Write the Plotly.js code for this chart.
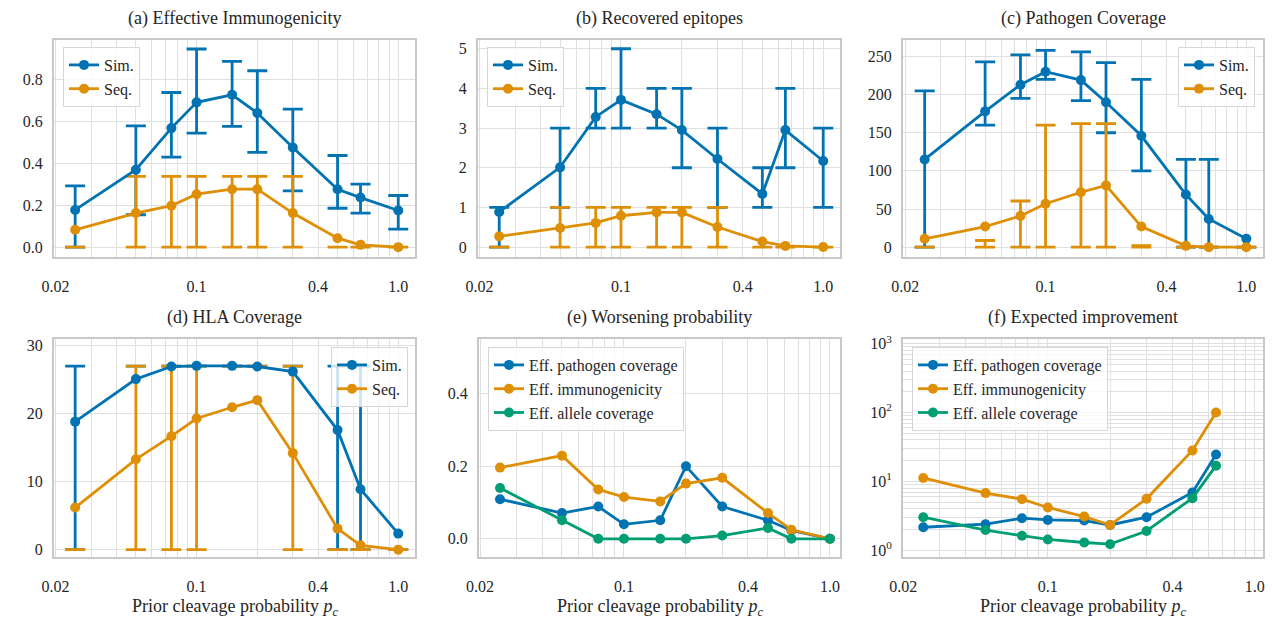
<!DOCTYPE html>
<html>
<head>
<meta charset="utf-8">
<script src="https://cdn.plot.ly/plotly-3.0.1.min.js"></script>
<style>html,body{margin:0;padding:0;background:#fff;}#chart{width:1272px;height:619px;}</style>
</head>
<body>
<div id="chart"></div>
<script>
// ---------------- data ----------------
const pc = [0.025, 0.05, 0.075, 0.1, 0.15, 0.2, 0.3, 0.5, 0.65, 1.0];
const pcF = [0.025, 0.05, 0.075, 0.1, 0.15, 0.2, 0.3, 0.5, 0.65];

const xTickVals = [0.02,0.03,0.04,0.05,0.06,0.07,0.08,0.09,0.1,0.2,0.3,0.4,0.5,0.6,0.7,0.8,0.9,1.0];
const xTickText = ['0.02','','','','','','','','0.1','','','0.4','','','','','','1.0'];

const seriesNames = ['Sim.', 'Seq.'];
const effNames = ['Eff. pathogen coverage', 'Eff. immunogenicity', 'Eff. allele coverage'];

const panelTitles = ['(a) Effective Immunogenicity', '(b) Recovered epitopes', '(c) Pathogen Coverage',
                     '(d) HLA Coverage', '(e) Worsening probability', '(f) Expected improvement'];
const xTitle = 'Prior cleavage probability <i>p</i><sub><i>c</i></sub>';

// (a) Effective immunogenicity
const immSim   = [0.178, 0.370, 0.569, 0.692, 0.728, 0.641, 0.476, 0.277, 0.237, 0.175];
const immSimLo = [0.000, 0.155, 0.430, 0.545, 0.577, 0.453, 0.269, 0.186, 0.163, 0.086];
const immSimHi = [0.293, 0.580, 0.739, 0.947, 0.888, 0.843, 0.660, 0.438, 0.301, 0.247];
const immSeq   = [0.083, 0.163, 0.198, 0.253, 0.277, 0.277, 0.163, 0.043, 0.011, 0.000];
const immSeqLo = [0, 0, 0, 0, 0, 0, 0, 0, 0, 0];
const immSeqHi = [0, 0.338, 0.338, 0.338, 0.338, 0.338, 0.338, 0, 0, 0];

// (b) Recovered epitopes
const epiSim   = [0.886, 2.01, 3.28, 3.71, 3.35, 2.95, 2.22, 1.34, 2.95, 2.17];
const epiSimLo = [0, 1, 3, 3, 3, 2, 1, 1, 2, 1];
const epiSimHi = [1, 3, 4, 5, 4, 4, 3, 2, 4, 3];
const epiSeq   = [0.27, 0.48, 0.61, 0.79, 0.875, 0.875, 0.505, 0.14, 0.03, 0.0];
const epiSeqLo = [0, 0, 0, 0, 0, 0, 0, 0, 0, 0];
const epiSeqHi = [0, 1, 1, 1, 1, 1, 1, 0, 0, 0];

// (c) Pathogen coverage
const covSim   = [115, 178, 213, 230, 219, 190, 146, 69, 37, 11];
const covSimLo = [0, 160, 195, 220, 192, 150, 100, 0, 0, 0];
const covSimHi = [205, 243, 252, 258, 256, 242, 220, 115, 115, 0];
const covSeq   = [11, 27, 41, 57, 72, 81, 27, 1.7, 0, 0];
const covSeqLo = [0, 0, 0, 0, 0, 0, 0, 0, 0, 0];
const covSeqHi = [0, 8.7, 60.5, 160, 162, 162, 2, 0, 0, 0];

// (d) HLA coverage
const hlaSim   = [18.84, 25.1, 26.95, 27.05, 27.05, 26.95, 26.2, 17.6, 8.9, 2.36];
const hlaSimLo = [0, 27, 27, 27, 27, 27, 27, 0, 0, 0];
const hlaSimHi = [27, 27, 27, 27, 27, 27, 27, 27, 27, 0];
const hlaSeq   = [6.2, 13.3, 16.7, 19.3, 20.95, 22.0, 14.2, 3.1, 0.64, 0];
const hlaSeqLo = [0, 0, 0, 0, 27, 27, 0, 0, 0, 0];
const hlaSeqHi = [0, 27, 27, 27, 27, 27, 27, 0, 0, 0];

// (e) Worsening probability
const worsePath = [0.109, 0.071, 0.089, 0.040, 0.051, 0.200, 0.089, 0.051, 0.023, 0.0];
const worseImm  = [0.196, 0.229, 0.136, 0.115, 0.103, 0.152, 0.168, 0.071, 0.025, 0.0];
const worseAll  = [0.140, 0.051, 0.0, 0.0, 0.0, 0.0, 0.009, 0.030, 0.0, 0.0];

// (f) Expected improvement
const impPath = [2.15, 2.38, 2.91, 2.75, 2.69, 2.32, 3.01, 6.9, 24.6];
const impImm  = [11.2, 6.75, 5.51, 4.17, 3.08, 2.32, 5.57, 28.1, 100];
const impAll  = [3.01, 1.96, 1.62, 1.43, 1.29, 1.22, 1.90, 5.70, 16.9];

const fTickVals = [];
const fTickText = [];
for (let e = 0; e <= 3; e++) {
  for (let m = 1; m <= 9; m++) {
    if (e === 3 && m > 1) break;
    fTickVals.push(m * Math.pow(10, e));
    fTickText.push(m === 1 ? '10<sup>' + e + '</sup>' : '');
  }
}

// ---------------- style ----------------
const BLUE = '#0173B2', ORANGE = '#DE8F05', GREEN = '#029E73';
const FONT = '"Liberation Serif", serif';
const TXT = '#262626';
const W = 1272, H = 619;
const px = v => v / W;
const py = v => 1 - v / H;

const panels = [
  {x0: 54,  x1: 415,  y0: 40,  y1: 257, xr: [-1.707, 0.083], yr: [-0.047, 0.99]},
  {x0: 478, x1: 840,  y0: 40,  y1: 257, xr: [-1.707, 0.083], yr: [-0.25, 5.22]},
  {x0: 903, x1: 1263, y0: 40,  y1: 257, xr: [-1.71, 0.083],  yr: [-12.9, 271.6]},
  {x0: 54,  x1: 415,  y0: 339, y1: 557, xr: [-1.707, 0.083], yr: [-1.08, 31]},
  {x0: 479, x1: 840,  y0: 339, y1: 557, xr: [-1.704, 0.049], yr: [-0.05, 0.55]},
  {x0: 903, x1: 1263, y0: 339, y1: 557, xr: [-1.70, 0.04],   yr: [-0.10, 3.07]}
];

const legendPos = [
  {x: 63,   y: 47,  xa: 'left'},
  {x: 487,  y: 47,  xa: 'left'},
  {x: 1255, y: 47,  xa: 'right'},
  {x: 408,  y: 347, xa: 'right'},
  {x: 488,  y: 347, xa: 'left'},
  {x: 912,  y: 347, xa: 'left'}
];

const traces = [];
function axisIds(i) {
  return {xaxis: 'x' + (i === 0 ? '' : i + 1), yaxis: 'y' + (i === 0 ? '' : i + 1)};
}
function errTrace(i, xs, lo, hi, color) {
  const ax = axisIds(i);
  traces.push({
    type: 'scatter', mode: 'markers', x: xs, y: lo,
    marker: {size: 1, opacity: 0, color: color},
    error_y: {type: 'data', symmetric: false,
              array: hi.map((h, k) => h - lo[k]),
              arrayminus: lo.map(() => 0),
              width: 10, thickness: 2.8, color: color},
    showlegend: false, hoverinfo: 'skip', xaxis: ax.xaxis, yaxis: ax.yaxis
  });
}
function lineTrace(i, xs, ys, color, name) {
  const ax = axisIds(i);
  traces.push({
    type: 'scatter', mode: 'lines+markers', x: xs, y: ys, name: name,
    line: {color: color, width: 2.8}, marker: {color: color, size: 10},
    legend: 'legend' + (i === 0 ? '' : i + 1),
    xaxis: ax.xaxis, yaxis: ax.yaxis
  });
}

const errPanels = [
  [immSim, immSimLo, immSimHi, immSeq, immSeqLo, immSeqHi],
  [epiSim, epiSimLo, epiSimHi, epiSeq, epiSeqLo, epiSeqHi],
  [covSim, covSimLo, covSimHi, covSeq, covSeqLo, covSeqHi],
  [hlaSim, hlaSimLo, hlaSimHi, hlaSeq, hlaSeqLo, hlaSeqHi]
];
errPanels.forEach((d, i) => {
  errTrace(i, pc, d[1], d[2], BLUE);
  errTrace(i, pc, d[4], d[5], ORANGE);
  lineTrace(i, pc, d[0], BLUE, seriesNames[0]);
  lineTrace(i, pc, d[3], ORANGE, seriesNames[1]);
});
lineTrace(4, pc, worsePath, BLUE, effNames[0]);
lineTrace(4, pc, worseImm, ORANGE, effNames[1]);
lineTrace(4, pc, worseAll, GREEN, effNames[2]);
lineTrace(5, pcF, impPath, BLUE, effNames[0]);
lineTrace(5, pcF, impImm, ORANGE, effNames[1]);
lineTrace(5, pcF, impAll, GREEN, effNames[2]);

const layout = {
  width: W, height: H,
  margin: {l: 0, r: 0, t: 0, b: 0},
  paper_bgcolor: '#ffffff', plot_bgcolor: '#ffffff',
  font: {family: FONT, color: TXT, size: 16},
  annotations: []
};

panels.forEach((p, i) => {
  const s = i === 0 ? '' : String(i + 1);
  const common = {
    showline: true, mirror: true, linecolor: '#c8c8c8', linewidth: 2,
    showgrid: true, gridcolor: '#e0e0e0', gridwidth: 1, zeroline: false,
    ticks: '', tickfont: {family: FONT, size: 16, color: TXT}
  };
  layout['xaxis' + s] = Object.assign({}, common, {
    type: 'log', range: p.xr, domain: [px(p.x0), px(p.x1)],
    anchor: 'y' + s, tickmode: 'array', tickvals: xTickVals, ticktext: xTickText,
    ticklabelstandoff: 14
  });
  const y = Object.assign({}, common, {
    range: p.yr, domain: [py(p.y1), py(p.y0)], anchor: 'x' + s, ticklabelstandoff: 6
  });
  if (i === 0) Object.assign(y, {tickvals: [0, 0.2, 0.4, 0.6, 0.8], ticktext: ['0.0','0.2','0.4','0.6','0.8'], tickmode: 'array'});
  if (i === 1) Object.assign(y, {dtick: 1, tick0: 0});
  if (i === 2) Object.assign(y, {dtick: 50, tick0: 0});
  if (i === 3) Object.assign(y, {dtick: 10, tick0: 0});
  if (i === 4) Object.assign(y, {tickvals: [0, 0.2, 0.4], ticktext: ['0.0','0.2','0.4'], tickmode: 'array'});
  if (i === 5) Object.assign(y, {type: 'log', tickmode: 'array', tickvals: fTickVals, ticktext: fTickText});
  layout['yaxis' + s] = y;

  const lp = legendPos[i];
  layout['legend' + s] = {
    x: px(lp.x), y: py(lp.y), xanchor: lp.xa, yanchor: 'top',
    xref: 'paper', yref: 'paper',
    bgcolor: 'rgba(255,255,255,0.8)', bordercolor: '#d6d6d6', borderwidth: 1,
    font: {family: FONT, size: 16, color: TXT}, tracegroupgap: 0, itemwidth: 30
  };

  layout.annotations.push({
    text: panelTitles[i], xref: 'paper', yref: 'paper',
    x: px((p.x0 + p.x1) / 2), y: py(p.y0 - 22), xanchor: 'center', yanchor: 'middle',
    showarrow: false, font: {family: FONT, size: 18, color: TXT}
  });
  if (i >= 3) {
    layout.annotations.push({
      text: xTitle, xref: 'paper', yref: 'paper',
      x: px((p.x0 + p.x1) / 2), y: py(607), xanchor: 'center', yanchor: 'middle',
      showarrow: false, font: {family: FONT, size: 18, color: TXT}
    });
  }
});

Plotly.newPlot('chart', traces, layout, {displayModeBar: false, staticPlot: true});
</script>
</body>
</html>
